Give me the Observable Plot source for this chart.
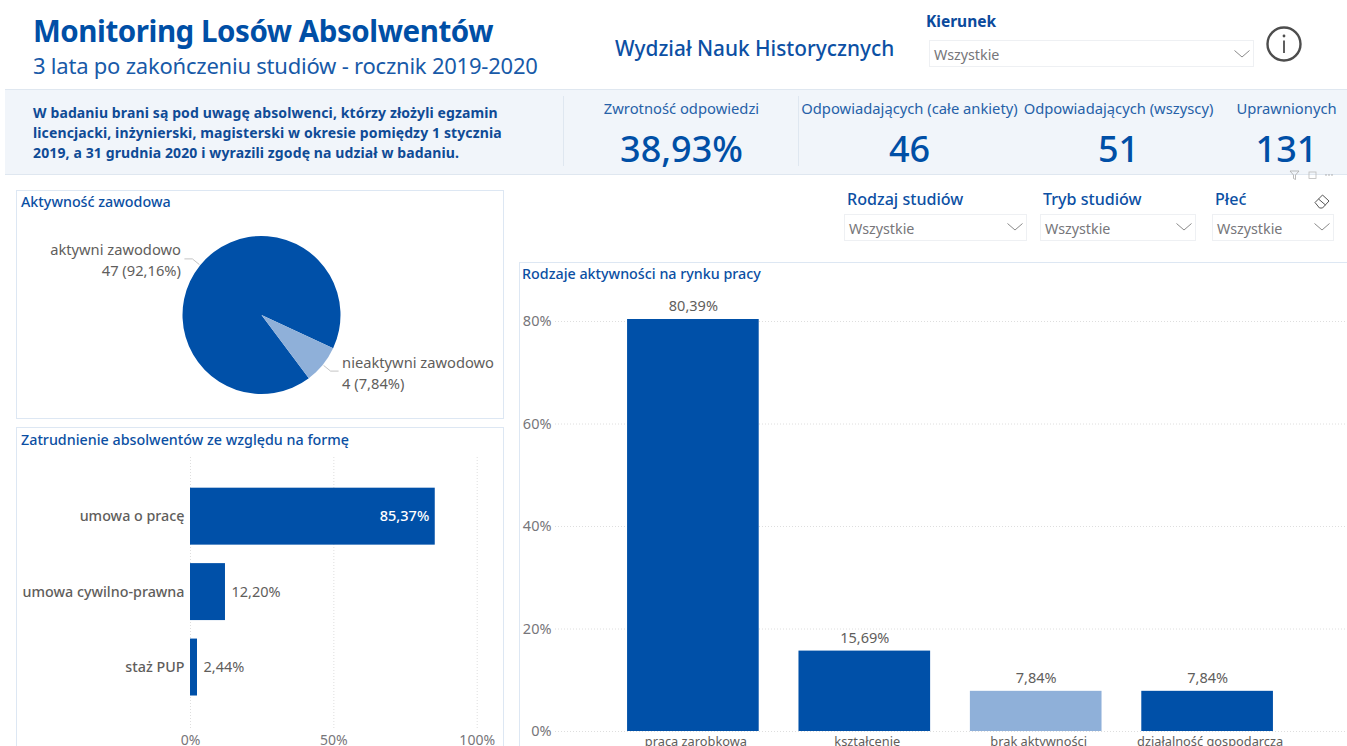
<!DOCTYPE html>
<html lang="pl">
<head>
<meta charset="utf-8">
<script src="https://cdn.jsdelivr.net/npm/d3@7"></script>
<script src="https://cdn.jsdelivr.net/npm/@observablehq/plot@0.6"></script>
<style>
  html,body{margin:0;padding:0;background:#fff;}
  body{width:1347px;height:746px;overflow:hidden;position:relative;font-family:"Noto Sans",sans-serif;}
  .t{position:absolute;white-space:nowrap;line-height:1;}
  .box{position:absolute;box-sizing:border-box;}
  .panel{position:absolute;box-sizing:border-box;border:1.5px solid #dde7f3;background:#fff;}
  .plot{position:absolute;}
  svg.ico{position:absolute;overflow:visible;}
</style>
</head>
<body>
<script>
// ---- data ----
const activityStatus = ["aktywni zawodowo", "nieaktywni zawodowo"];
const activityCount = [47, 4];
const activityShare = [92.16, 7.84];

const formLabels = ["umowa o pracę", "umowa cywilno-prawna", "staż PUP"];
const formValues = [85.37, 12.20, 2.44];

const marketLabels = ["praca zarobkowa", "kształcenie", "brak aktywności", "działalność gospodarcza"];
const marketValues = [80.39, 15.69, 7.84, 7.84];

const kpiLabels = ["Zwrotność odpowiedzi", "Odpowiadających (całe ankiety)", "Odpowiadających (wszyscy)", "Uprawnionych"];
const kpiValues = ["38,93%", "46", "51", "131"];

const filterLabels = ["Kierunek", "Rodzaj studiów", "Tryb studiów", "Płeć"];
const allLabel = "Wszystkie";

const titleText = "Monitoring Losów Absolwentów";
const subtitleText = "3 lata po zakończeniu studiów - rocznik 2019-2020";
const facultyText = "Wydział Nauk Historycznych";
const noteLines = [
  "W badaniu brani są pod uwagę absolwenci, którzy złożyli egzamin",
  "licencjacki, inżynierski, magisterski w okresie pomiędzy 1 stycznia",
  "2019, a 31 grudnia 2020 i wyrazili zgodę na udział w badaniu."
];
const panelTitles = ["Aktywność zawodowa", "Zatrudnienie absolwentów ze względu na formę", "Rodzaje aktywności na rynku pracy"];

// ---- styling ----
const DARK = "#0050a8", LIGHT = "#8fb0d9", GREY = "#5f5e5c", AXIS = "#77767a", INK = "#0b4fa3", FONT = '"Noto Sans",sans-serif';
const pct = v => v.toFixed(2).replace(".", ",") + "%";

function text(str, x, y, size, opts = {}) {
  const d = document.createElement("div");
  d.className = "t";
  d.textContent = str;
  const anchor = opts.anchor || "start";
  const tx = anchor === "middle" ? "-50%" : anchor === "end" ? "-100%" : "0";
  d.style.cssText = `left:${x}px;top:${y}px;font-size:${size}px;color:${opts.color || INK};font-weight:${opts.weight || 400};transform:translate(${tx},-50%);letter-spacing:${opts.ls || 0}px;`;
  document.body.appendChild(d);
}
function box(cls, x, y, w, h, css = "") {
  const d = document.createElement("div");
  d.className = cls;
  d.style.cssText = `left:${x}px;top:${y}px;width:${w}px;height:${h}px;${css}`;
  document.body.appendChild(d);
  return d;
}
function icon(x, y, w, h, inner) {
  const s = document.createElementNS("http://www.w3.org/2000/svg", "svg");
  s.setAttribute("class", "ico");
  s.setAttribute("width", w); s.setAttribute("height", h);
  s.style.left = x + "px"; s.style.top = y + "px";
  s.innerHTML = inner;
  document.body.appendChild(s);
}
function dropdown(x, y, w, h) {
  box("box", x, y, w, h, "border:1px solid #eef0f3;");
  text(allLabel, x + 5, y + h / 2 + 1.5, 14.3, {color: "#77767a"});
  icon(x + w - 20, y + h / 2 - 4, 16, 8, '<path d="M0.5 0.5 L8 7 L15.5 0.5" fill="none" stroke="#8a8a8a" stroke-width="1"/>');
}

// ---- header ----
text(titleText, 33, 31, 29.5, {weight: 700, color: "#004fa6", ls: -0.45});
text(subtitleText, 33, 65, 22, {color: "#185aa8", ls: -0.22});
text(facultyText, 615, 47.5, 20.8, {weight: 500, color: "#0c50a4"});
text(filterLabels[0], 926, 21.5, 15.5, {weight: 700, color: "#0b4a9c"});
dropdown(929, 40, 325, 27);
icon(1266, 26, 36, 36, '<circle cx="18" cy="18" r="16.5" fill="none" stroke="#4d4d4d" stroke-width="2.4"/><path d="M18 14.5V27" stroke="#4d4d4d" stroke-width="1.8"/><circle cx="18" cy="10" r="1.4" fill="#4d4d4d"/>');

// ---- KPI band ----
box("box", 5, 89, 1342, 85.5, "background:#f1f5fa;border-top:1.5px solid #dfe7f0;border-bottom:1.5px solid #dfe7f0;");
box("box", 563, 96, 1, 70, "background:#dfe7f0;");
box("box", 798, 96, 1, 70, "background:#dfe7f0;");
noteLines.forEach((l, i) => text(l, 33, 112.5 + i * 20, 14, {weight: 700, color: "#0f4b96", ls: 0.12}));
const kpiCenters = [681.5, 909.5, 1118.5, 1286.5];
kpiLabels.forEach((l, i) => {
  text(l, kpiCenters[i], 108, 14.75, {anchor: "middle", color: "#2661a8"});
  text(kpiValues[i], kpiCenters[i], 149, 36, {anchor: "middle", color: "#004fa6", weight: 500});
});
// visual toolbar
icon(1289, 170, 50, 10, '<path d="M1 1H10L6.5 5V9.5L4.5 8.5V5Z" fill="none" stroke="#aaa" stroke-width=".8"/><rect x="20" y="2" width="7" height="6.5" fill="none" stroke="#bbb" stroke-width=".8"/><circle cx="37" cy="5" r=".7" fill="#999"/><circle cx="40" cy="5" r=".7" fill="#999"/><circle cx="43" cy="5" r=".7" fill="#999"/>');

// ---- slicers ----
text(filterLabels[1], 847, 198.5, 16.1, {color: "#0c50a4", weight: 500});
text(filterLabels[2], 1043, 198.5, 16.1, {color: "#0c50a4", weight: 500});
text(filterLabels[3], 1215, 198.5, 16.1, {color: "#0c50a4", weight: 500});
dropdown(844, 213.5, 183, 27);
dropdown(1040, 213.5, 156, 27);
dropdown(1212, 213.5, 122, 27);
icon(1314, 193, 16, 16, '<path d="M1 9.5L8.5 2L15 8L8.5 15H5.5Z" fill="none" stroke="#555" stroke-width="1"/><path d="M4.5 6L11.5 12" stroke="#555" stroke-width="1"/>');

// ---- panels ----
box("panel", 16, 190, 488, 229);
box("panel", 16, 427, 488, 330);
box("panel", 519, 262, 840, 500);
text(panelTitles[0], 21, 201.5, 14.3, {weight: 500});
text(panelTitles[1], 21, 439.5, 14.3, {weight: 500});
text(panelTitles[2], 522, 273.5, 14.3, {weight: 500});

function mount(chart, x, y) {
  chart.classList.add("plot");
  chart.style.left = x + "px";
  chart.style.top = y + "px";
  document.body.appendChild(chart);
}

// ---- pie ----
const activityRows = activityStatus.map((status, i) => ({status, count: activityCount[i], share: activityShare[i]}));
const R = 79;
function pieRender(index, scales, values, dimensions) {
  const cx = (dimensions.marginLeft + dimensions.width - dimensions.marginRight) / 2;
  const cy = (dimensions.marginTop + dimensions.height - dimensions.marginBottom) / 2;
  const start = 143.2 * Math.PI / 180;
  const arcs = d3.pie().sort(null).value(i => activityRows[i].count).startAngle(start).endAngle(start + 2 * Math.PI)(Array.from(index));
  const g = d3.create("svg:g").attr("transform", `translate(${cx},${cy})`);
  const arc = d3.arc().innerRadius(0).outerRadius(R);
  g.selectAll("path.slice").data(arcs).join("path").attr("class", "slice").attr("d", arc).attr("fill", d => values.fill[d.data]);
  arcs.forEach(a => {
    const row = activityRows[a.data];
    const mid = (a.startAngle + a.endAngle) / 2;
    const ux = Math.sin(mid), uy = -Math.cos(mid);
    const side = ux < 0 ? -1 : 1;
    const ex = (R + 10) * ux, ey = (R + 10) * uy;
    const endX = ex + side * 8;
    g.append("path").attr("fill", "none").attr("stroke", "#c4c4c4").attr("stroke-width", 1)
      .attr("d", `M${(R + 1) * ux},${(R + 1) * uy}L${ex},${ey}L${endX},${ey}`);
    const tx = g.append("text").attr("font-size", 14.7).attr("fill", GREY).attr("text-anchor", side < 0 ? "end" : "start");
    const lift = side < 0 ? 4 : 3.5;
    tx.append("tspan").attr("x", endX + side * 3.5).attr("y", ey - lift).text(row.status);
    tx.append("tspan").attr("x", endX + side * 3.5).attr("y", ey - lift + 21).text(`${row.count} (${pct(row.share)})`);
  });
  return g.node();
}
mount(Plot.plot({
  width: 488, height: 229,
  marginLeft: 3, marginRight: 0, marginTop: 21, marginBottom: 0,
  style: {background: "transparent", fontFamily: FONT},
  color: {domain: activityStatus, range: [DARK, LIGHT]},
  marks: [Plot.dot(activityRows, {frameAnchor: "middle", fill: "status", r: R, render: pieRender})]
}), 16, 190);

// ---- horizontal bars ----
const formRows = formLabels.map((label, i) => ({label, value: formValues[i]}));
mount(Plot.plot({
  width: 488, height: 319,
  marginLeft: 174, marginRight: 0, marginTop: 30, marginBottom: 18,
  style: {background: "transparent", fontFamily: FONT},
  x: {domain: [0, 100], range: [174, 460.7], label: null},
  y: {domain: formLabels, range: [42.2, 287], padding: 0.245, round: false, label: null},
  marks: [
    Plot.gridX({ticks: [0, 50, 100], stroke: "#dedede", strokeOpacity: 1, strokeDasharray: "1,2"}),
    Plot.barX(formRows, {x: "value", y: "label", fill: DARK}),
    Plot.text(formRows, {filter: d => d.value > 50, x: "value", y: "label", text: d => pct(d.value), dx: -6, textAnchor: "end", fill: "#fff", fontSize: 14.5, fontWeight: 500}),
    Plot.text(formRows, {filter: d => d.value <= 50, x: "value", y: "label", text: d => pct(d.value), dx: 6, textAnchor: "start", fill: GREY, fontSize: 14.5}),
    Plot.axisY({tickSize: 0, tickPadding: 6, fontSize: 14.3, fontWeight: 500, color: GREY, label: null}),
    Plot.axisX({ticks: [0, 50, 100], tickSize: 0, tickPadding: 7, tickFormat: d => d + "%", fontSize: 14, color: AXIS, label: null})
  ]
}), 16, 427);

// ---- vertical bars ----
const marketRows = marketLabels.map((label, i) => ({label, value: marketValues[i]}));
mount(Plot.plot({
  width: 828, height: 484,
  marginLeft: 36, marginRight: 0, marginTop: 8, marginBottom: 15,
  style: {background: "transparent", fontFamily: FONT},
  x: {domain: marketLabels, range: [68.3, 793.7], padding: 0.232, round: false, label: null},
  y: {domain: [0, 90], range: [469, 7.75], label: null},
  color: {domain: marketLabels, range: [DARK, DARK, LIGHT, DARK]},
  marks: [
    Plot.gridY({ticks: [0, 20, 40, 60, 80], stroke: "#dedede", strokeOpacity: 1, strokeDasharray: "1,2"}),
    Plot.barY(marketRows, {x: "label", y: "value", fill: "label"}),
    Plot.text(marketRows, {x: "label", y: "value", text: d => pct(d.value), dy: -13, fill: GREY, fontSize: 14.5}),
    Plot.axisY({ticks: [0, 20, 40, 60, 80], tickSize: 0, tickPadding: 4, tickFormat: d => d + "%", fontSize: 14.5, color: AXIS, label: null}),
    Plot.axisX({tickSize: 0, tickPadding: 5, dx: 2.5, fontSize: 12.8, color: GREY, label: null})
  ]
}), 519, 262);
</script>
</body>
</html>
